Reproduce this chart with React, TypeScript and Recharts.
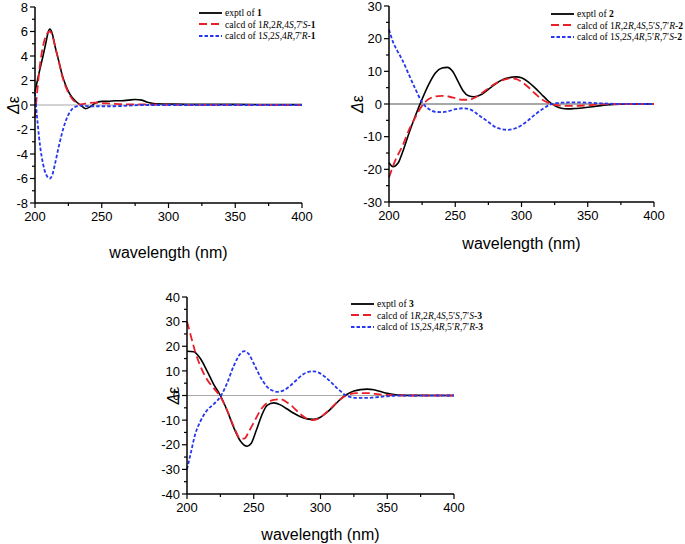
import React from 'react';
import { LineChart, Line, XAxis, YAxis, ReferenceLine, Legend } from 'recharts';

type P = [number, number];

// ---------- data ----------
const xTicks = [200, 225, 250, 275, 300, 325, 350, 375, 400];
const xMajor = [200, 250, 300, 350, 400];

const y1Ticks = [-8, -7, -6, -5, -4, -3, -2, -1, 0, 1, 2, 3, 4, 5, 6, 7, 8];
const y2Ticks = [-30, -25, -20, -15, -10, -5, 0, 5, 10, 15, 20, 25, 30];
const y3Ticks = [-40, -35, -30, -25, -20, -15, -10, -5, 0, 5, 10, 15, 20, 25, 30, 35, 40];

const exp1: P[] = [[200, 1.1], [203, 2.6], [206, 4.0], [208, 5.0], [210, 6.0], [211, 6.2], [213, 5.8], [215, 4.8], [218, 3.5], [220, 2.6], [223, 1.6], [226, 0.9], [230, 0.35], [234, 0], [238, -0.3], [242, -0.1], [245, 0.15], [250, 0.3], [255, 0.3], [260, 0.35], [265, 0.35], [270, 0.4], [275, 0.45], [280, 0.4], [285, 0.2], [290, 0.1], [300, 0.08], [320, 0.05], [350, 0.05], [400, 0.03]];
const calcA1: P[] = [[200, -1], [202, 1.5], [204, 3.5], [206, 4.8], [208, 5.6], [211, 6.0], [213, 5.7], [215, 4.8], [218, 3.5], [220, 2.5], [223, 1.5], [226, 0.8], [230, 0.25], [234, 0.05], [240, 0.15], [245, 0.2], [250, 0.15], [260, 0.1], [270, 0.05], [280, 0.05], [300, 0.02], [400, 0]];
const calcB1: P[] = [[200, 1], [202, -1.5], [204, -3.5], [206, -4.8], [208, -5.6], [211, -6.0], [213, -5.7], [215, -4.8], [218, -3.3], [220, -2.4], [223, -1.3], [226, -0.6], [230, -0.15], [235, -0.05], [240, -0.1], [250, -0.1], [260, -0.1], [270, -0.05], [280, 0], [400, 0]];

const exp2: P[] = [[200, -18], [203, -19.2], [207, -18], [210, -15], [215, -9], [220, -3.5], [225, 1.5], [230, 6], [235, 9.5], [240, 11], [244, 11.2], [248, 10], [252, 7], [256, 4], [260, 2.5], [264, 2.2], [270, 3], [275, 4.5], [280, 6], [285, 7.3], [290, 8], [296, 8.3], [300, 8], [305, 6.8], [310, 5], [315, 3], [320, 1], [325, -0.5], [330, -1.3], [335, -1.5], [340, -1.4], [350, -1], [360, -0.5], [370, -0.1], [380, 0], [400, 0]];
const calcA2: P[] = [[200, -22.5], [205, -17], [210, -13], [215, -8], [220, -4], [225, -0.5], [230, 1.5], [235, 2.3], [240, 2.5], [245, 2.3], [250, 1.8], [255, 1.3], [260, 1.3], [265, 2], [270, 3.3], [275, 4.8], [280, 6.2], [285, 7.2], [290, 7.8], [293, 7.9], [297, 7.5], [300, 6.8], [305, 5.2], [310, 3.3], [315, 1.5], [320, 0.4], [325, -0.3], [330, -0.5], [340, -0.6], [350, -0.4], [360, -0.1], [370, 0], [400, 0]];
const calcB2: P[] = [[200, 22.8], [203, 19], [206, 16.5], [210, 13.5], [215, 9], [220, 4.5], [225, 0.5], [230, -1.5], [235, -2.4], [240, -2.5], [245, -2.2], [250, -1.6], [256, -1.3], [262, -1.8], [268, -3.5], [275, -5.5], [280, -7], [285, -7.7], [290, -7.9], [295, -7.5], [300, -6.5], [305, -5], [310, -3.3], [315, -1.8], [320, -0.5], [325, 0.2], [330, 0.4], [340, 0.5], [350, 0.4], [360, 0.2], [370, 0.05], [400, 0]];

const exp3: P[] = [[200, 18], [205, 17.8], [210, 15], [215, 10], [220, 4.5], [225, 0], [230, -6], [235, -13], [240, -18.5], [245, -20.6], [248, -19.5], [252, -14], [256, -8], [260, -4], [265, -3], [270, -3.8], [275, -5.5], [280, -7.2], [285, -8.6], [290, -9.5], [295, -9.7], [300, -8.8], [305, -6.8], [310, -4.2], [315, -1.5], [320, 0.5], [325, 1.8], [330, 2.4], [335, 2.6], [340, 2.3], [345, 1.6], [350, 0.9], [355, 0.4], [360, 0.15], [370, 0.05], [400, 0]];
const calcA3: P[] = [[200, 30], [203, 24], [206, 18], [210, 12], [215, 6.5], [220, 3], [225, -0.5], [230, -6], [235, -12.5], [240, -17.5], [243, -17.5], [246, -15], [250, -11], [255, -6], [260, -3], [265, -1.8], [270, -1.5], [275, -2.8], [280, -5], [285, -7.6], [290, -9.5], [294, -10], [298, -9.5], [303, -7.5], [308, -5], [313, -2.4], [318, -0.3], [322, 0.6], [327, 1], [335, 1], [340, 0.7], [350, 0.2], [360, 0], [400, 0]];
const calcB3: P[] = [[200, -30], [203, -23], [206, -16], [210, -10.5], [215, -6], [220, -3.5], [225, -0.5], [230, 5], [235, 12], [240, 17], [243, 18], [246, 17], [250, 13], [255, 7.5], [260, 3.5], [265, 1.8], [268, 1.5], [272, 2], [277, 3.8], [282, 6.3], [287, 8.6], [292, 9.7], [295, 9.8], [299, 9.2], [304, 7.3], [309, 4.8], [314, 2.2], [318, 0.4], [322, -0.6], [327, -1], [335, -1], [340, -0.8], [350, -0.3], [360, -0.05], [400, 0]];

// legend labels: _x_ italic, *x* bold
const legend1 = ['exptl of *1*', "calcd of 1_R_,2_R_,4_S_,7'_S_-*1*", "calcd of 1_S_,2_S_,4_R_,7'_R_-*1*"];
const legend2 = ['exptl of *2*', 'calcd of 1_R_,2_R_,4_S_,5′_S_,7′_R_-*2*', 'calcd of 1_S_,2_S_,4_R_,5′_R_,7′_S_-*2*'];
const legend3 = ['exptl of *3*', 'calcd of 1_R_,2_R_,4_S_,5′_S_,7′_S_-*3*', 'calcd of 1_S_,2_S_,4_R_,5′_R_,7′_R_-*3*'];

// ---------- styles ----------
const SANS = '"Liberation Sans", Arial, sans-serif';
const SERIF = '"Liberation Serif", "Times New Roman", serif';
const BLACK = '#000000';
const RED = '#e8202a';
const BLUE = '#2637f0';
const series = [
  { color: BLACK, dash: undefined as string | undefined },
  { color: RED, dash: '8 4' },
  { color: BLUE, dash: '3.5 2' },
];

const toData = (p: P[]) => p.map(([x, y]) => ({ x, y }));

function renderRich(s: string) {
  const parts: React.ReactNode[] = [];
  const re = /(_[^_]+_|\*[^*]+\*)/g;
  let last = 0;
  let m: RegExpExecArray | null;
  let k = 0;
  while ((m = re.exec(s))) {
    if (m.index > last) parts.push(<span key={k++}>{s.slice(last, m.index)}</span>);
    const t = m[0];
    if (t[0] === '_') parts.push(<i key={k++}>{t.slice(1, -1)}</i>);
    else parts.push(<b key={k++}>{t.slice(1, -1)}</b>);
    last = m.index + t.length;
  }
  if (last < s.length) parts.push(<span key={k++}>{s.slice(last)}</span>);
  return parts;
}

const makeLegend = (labels: string[]) => () => (
  <div style={{ fontFamily: SERIF, fontSize: 9.6, color: '#000' }}>
    {labels.map((l, i) => (
      <div key={i} style={{ display: 'flex', alignItems: 'center', height: 11.5, whiteSpace: 'nowrap' }}>
        <svg width={23} height={6} style={{ marginRight: 3 }}>
          <line x1={0} y1={3} x2={23} y2={3} stroke={series[i].color} strokeWidth={1.8} strokeDasharray={series[i].dash} />
        </svg>
        <span>{renderRich(l)}</span>
      </div>
    ))}
  </div>
);

const YTick = (majorStep: number) => (props: any) => {
  const { x, y, payload } = props;
  const v = payload.value as number;
  const major = Math.abs(v % majorStep) < 1e-9;
  return (
    <g>
      <line x1={x} x2={x - (major ? 5 : 3)} y1={y} y2={y} stroke="#000" strokeWidth={1.2} />
      {major && (
        <text x={x - 7} y={y} dy="0.36em" textAnchor="end" fontFamily={SANS} fontSize={13} fill="#000">
          {v}
        </text>
      )}
    </g>
  );
};

const XTick = (props: any) => {
  const { x, y, payload } = props;
  const v = payload.value as number;
  const major = xMajor.includes(v);
  return (
    <g>
      <line x1={x} x2={x} y1={y} y2={y + (major ? 5 : 3)} stroke="#000" strokeWidth={1.2} />
      {major && (
        <text x={x} y={y + 8} dy="0.75em" textAnchor="middle" fontFamily={SANS} fontSize={13} fill="#000">
          {v}
        </text>
      )}
    </g>
  );
};

const xTitle = (dy: number) => (props: any) => {
  const vb = props.viewBox;
  return (
    <text x={vb.x + vb.width / 2} y={vb.y + dy} dy="0.35em" textAnchor="middle" fontFamily={SANS} fontSize={16} fill="#000">
      wavelength (nm)
    </text>
  );
};

const yTitle = (dx: number) => (props: any) => {
  const vb = props.viewBox;
  const cx = vb.x + dx;
  const cy = vb.y + vb.height / 2;
  return (
    <text x={cx} y={cy} dy="0.35em" textAnchor="middle" transform={`rotate(-90, ${cx}, ${cy})`} fontFamily={SANS} fontSize={16} fill="#000">
      <tspan fontStyle="italic">Δ</tspan>ε
    </text>
  );
};

interface PanelProps {
  left: number; top: number; width: number; height: number;
  yWidth: number; xHeight: number; mTop: number; mRight: number;
  yDomain: [number, number]; yTicks: number[]; yMajor: number;
  data: P[][]; legend: string[]; legendPos: { left: number; top: number };
  xTitleDy: number; yTitleDx: number; zeroWidth: number;
}

function Panel(p: PanelProps) {
  return (
    <div style={{ position: 'absolute', left: p.left, top: p.top }}>
      <LineChart width={p.width} height={p.height} margin={{ top: p.mTop, right: p.mRight, left: 0, bottom: 0 }}>
        <XAxis
          dataKey="x" type="number" domain={[200, 400]} ticks={xTicks} interval={0}
          height={p.xHeight} tickSize={0} tickMargin={0} tickLine={false}
          axisLine={{ stroke: '#000', strokeWidth: 1.5 }} tick={XTick} allowDuplicatedCategory={false}
          label={{ content: xTitle(p.xTitleDy) } as any}
        />
        <YAxis
          type="number" domain={p.yDomain} ticks={p.yTicks} interval={0} width={p.yWidth}
          tickSize={0} tickMargin={0} tickLine={false}
          axisLine={{ stroke: '#000', strokeWidth: 1.5 }} tick={YTick(p.yMajor)}
          label={{ content: yTitle(p.yTitleDx) } as any}
        />
        <ReferenceLine y={0} stroke="#a8a8a8" strokeWidth={p.zeroWidth} />
        <Legend
          layout="horizontal" verticalAlign="middle" align="center"
          content={makeLegend(p.legend)}
          wrapperStyle={{ position: 'absolute', left: p.legendPos.left, top: p.legendPos.top, width: 'auto', bottom: 'auto' }}
        />
        {p.data.map((d, i) => (
          <Line
            key={i} data={toData(d)} dataKey="y" type="monotone" dot={false} activeDot={false}
            stroke={series[i].color} strokeWidth={i === 0 ? 1.6 : 1.8} strokeDasharray={series[i].dash}
            isAnimationActive={false} legendType="none"
          />
        ))}
      </LineChart>
    </div>
  );
}

export default function App() {
  return (
    <div style={{ position: 'absolute', left: 0, top: 0, width: 685, height: 544, background: '#fff', overflow: 'hidden' }}>
      <Panel
        left={0} top={0} width={340} height={265} yWidth={35} xHeight={62} mTop={7} mRight={38}
        yDomain={[-8, 8]} yTicks={y1Ticks} yMajor={2}
        data={[exp1, calcA1, calcB1]} legend={legend1} legendPos={{ left: 199, top: 7 }}
        xTitleDy={49} yTitleDx={13} zeroWidth={1.2}
      />
      <Panel
        left={340} top={0} width={345} height={260} yWidth={49} xHeight={58} mTop={6} mRight={31}
        yDomain={[-30, 30]} yTicks={y2Ticks} yMajor={10}
        data={[exp2, calcA2, calcB2]} legend={legend2} legendPos={{ left: 211, top: 8 }}
        xTitleDy={41} yTitleDx={17} zeroWidth={1.8}
      />
      <Panel
        left={140} top={290} width={360} height={254} yWidth={47} xHeight={50} mTop={7} mRight={46}
        yDomain={[-40, 40]} yTicks={y3Ticks} yMajor={10}
        data={[exp3, calcA3, calcB3]} legend={legend3} legendPos={{ left: 211, top: 8 }}
        xTitleDy={40} yTitleDx={33} zeroWidth={1.2}
      />
    </div>
  );
}
